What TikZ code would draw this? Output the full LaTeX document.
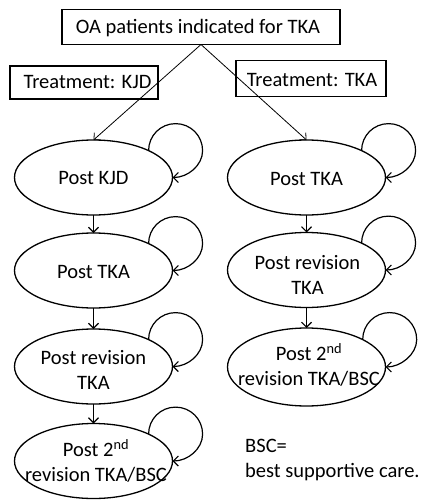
\documentclass[tikz,border=0pt]{standalone}
\usepackage{fontspec}
\setmainfont{Carlito}
\usetikzlibrary{arrows.meta,shapes.geometric}
\begin{document}
\begin{tikzpicture}[x=1pt,y=-1pt,
  every node/.style={font=\fontsize{20.5}{25}\selectfont},
  box/.style={draw,line width=1.2pt,inner sep=0pt,outer sep=0pt},
  state/.style={draw,ellipse,line width=1.3pt,minimum width=158pt,minimum height=75pt,inner sep=0pt,outer sep=0pt},
  txt/.style={inner sep=0pt,align=center},
  arr/.style={line width=1.1pt,-{Straight Barb[length=5pt,width=10pt]}},
  thin arr/.style={line width=0.8pt,-{Straight Barb[length=5pt,width=10pt]}},
  selfloop/.style={line width=1.2pt,-{Straight Barb[length=5pt,width=10pt]}}]
\useasboundingbox (0,0) rectangle (424,500);
% boxes
\node[box,minimum width=278pt,minimum height=35pt] (top) at (201,27) {};
\node[txt] (toptxt) at (198,28) {OA patients indicated for TKA};
\node[box,minimum width=148pt,minimum height=33pt] (kjd) at (84,82.5) {};
\node[txt] (kjdtxt) at (87.5,82.5) {Treatment: KJD};
\node[box,minimum width=150pt,minimum height=36pt] (tka) at (311,78.5) {};
\node[txt] (tkatxt) at (312,80) {Treatment: TKA};
% states left
\node[state] (l1) at (93.5,177.5) {};
\node[state] (l2) at (93.5,270.5) {};
\node[state] (l3) at (93.5,366.5) {};
\node[state] (l4) at (93.5,461) {};
% states right
\node[state] (r1) at (306.5,177.5) {};
\node[state] (r2) at (306.5,270) {};
\node[state,minimum height=78pt] (r3) at (306.5,367) {};
% texts
\node[txt] (l1t) at (93.5,178) {Post KJD};
\node[txt] (l2t) at (93.5,272) {Post TKA};
\node[txt] (l3t) at (93.5,370) {Post revision\\TKA};
\node[txt] (l4t) at (96,461) {Post 2\textsuperscript{nd}\\revision TKA/BSC};
\node[txt] (r1t) at (306.5,179) {Post TKA};
\node[txt] (r2t) at (307.5,275) {Post revision\\TKA};
\node[txt] (r3t) at (309,365) {Post 2\textsuperscript{nd}\\revision TKA/BSC};
\node[txt,align=left,anchor=west] (bsc) at (245,460) {BSC=\\best supportive care.};
% connectors
\draw[thin arr] (top.south) -- (l1.north);
\draw[thin arr] (top.south) -- (r1.north);
\draw[arr] (l1.south) -- (l2.north);
\draw[arr] (l2.south) -- (l3.north);
\draw[arr] (l3.south) -- (l4.north);
\draw[arr] (r1.south) -- (r2.north);
\draw[arr] (r2.south) -- (r3.north);
% self loops
\foreach \n in {l1,l2,l3,l4,r1,r2,r3}{
  \draw[selfloop] (\n.26) .. controls +(0,-15) and +(-15,0) .. ++(27,-27)
     .. controls +(15,0) and +(0,-15) .. ++(27,27)
     .. controls +(0,15) and +(15,0) .. (\n.east);
}
\end{tikzpicture}
\end{document}
